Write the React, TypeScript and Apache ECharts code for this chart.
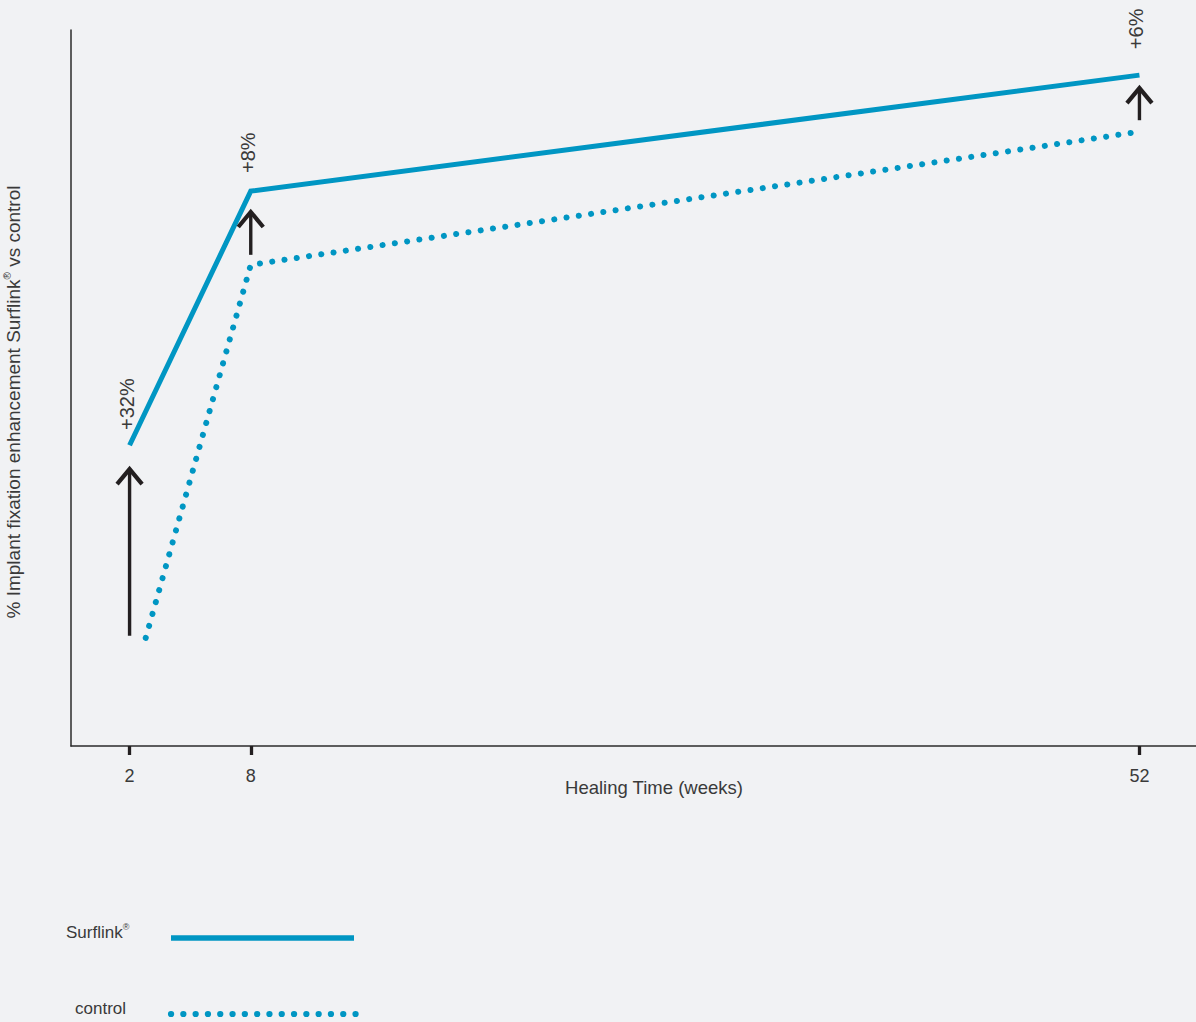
import React, { useEffect, useRef } from "react";
import * as echarts from "echarts";

// ---- data ----
const tickWeeks = [2, 8, 52];
const surflinkWeeks = [2, 8, 52];
const surflinkValues = [42.0, 77.5, 93.7];
const controlWeeks = [2.8, 8, 52];
const controlValues = [15.1, 67.2, 85.8];
const arrowWeeks = [2, 8, 52];
const arrowFrom = [15.4, 68.6, 87.4];
const arrowTo = [39.1, 75.0, 92.3];
const gainLabels = ["+32%", "+8%", "+6%"];
const seriesNames = ["Surflink®", "control"];

const BLUE = "#0096c3";
const INK = "#231f20";
const TEXT = "#3a3a3a";
const BG = "#f1f2f4";
const FONT = "'Liberation Sans', Arial, Helvetica, sans-serif";

export default function App() {
  const ref = useRef<HTMLDivElement>(null);

  useEffect(() => {
    if (!ref.current) return;
    const chart = echarts.init(ref.current, undefined, { renderer: "svg" });

    const option: any = {
      animation: false,
      backgroundColor: BG,
      grid: {
        left: 71,
        right: 0,
        top: 30,
        bottom: 276,
        containLabel: false,
        outerBoundsMode: "none",
      },
      xAxis: {
        type: "value",
        min: -0.9,
        max: 54.8,
        name: "Healing Time (weeks)",
        nameLocation: "middle",
        nameGap: 32,
        nameMoveOverlap: false,
        nameTextStyle: {
          fontFamily: FONT,
          fontSize: 18.5,
          color: TEXT,
          padding: [0, 0, 0, 41],
        },
        axisLine: { show: true, onZero: false, lineStyle: { color: "#2b2b2b", width: 1.5 } },
        axisTick: {
          show: true,
          customValues: tickWeeks,
          length: 9,
          lineStyle: { color: INK, width: 3.3 },
        },
        axisLabel: {
          customValues: tickWeeks,
          margin: 21,
          fontFamily: FONT,
          fontSize: 18,
          color: TEXT,
        },
        splitLine: { show: false },
      },
      yAxis: {
        type: "value",
        min: 0,
        max: 100,
        name: "{a|% Implant fixation enhancement Surflink}{s|®}{a| vs control}",
        nameLocation: "middle",
        nameGap: 47,
        nameRotate: 90,
        nameMoveOverlap: false,
        nameTextStyle: {
          padding: [0, 28, 0, 0],
          rich: {
            a: { fontFamily: FONT, fontSize: 19, color: TEXT, lineHeight: 22 },
            s: { fontFamily: FONT, fontSize: 10, color: TEXT, lineHeight: 10, verticalAlign: "top" },
          },
        },
        axisLine: { show: true, onZero: false, lineStyle: { color: "#2b2b2b", width: 1.5 } },
        axisTick: { show: false },
        axisLabel: { show: false },
        splitLine: { show: false },
      },
      series: [
        {
          name: seriesNames[0],
          type: "line",
          data: surflinkWeeks.map((w, i) => [w, surflinkValues[i]]),
          symbol: "none",
          lineStyle: { color: BLUE, width: 5, cap: "butt", join: "miter" },
          z: 3,
        },
        {
          name: seriesNames[1],
          type: "line",
          data: controlWeeks.map((w, i) => [w, controlValues[i]]),
          symbol: "none",
          lineStyle: { color: BLUE, width: 6, type: [0.1, 12.3], cap: "round" },
          z: 2,
        },
        {
          type: "custom",
          clip: false,
          z: 4,
          data: arrowWeeks.map((w, i) => [w, arrowFrom[i], arrowTo[i]]),
          renderItem: (params: any, api: any) => {
            const w = api.value(0);
            const p0 = api.coord([w, api.value(1)]);
            const p1 = api.coord([w, api.value(2)]);
            const tipY = p1[1] + 3;
            return {
              type: "group",
              children: [
                {
                  type: "line",
                  shape: { x1: p0[0], y1: p0[1], x2: p1[0], y2: tipY },
                  style: { stroke: INK, lineWidth: 3.4 },
                },
                {
                  type: "polyline",
                  shape: {
                    points: [
                      [p1[0] - 12.5, tipY + 15],
                      [p1[0], tipY],
                      [p1[0] + 12.5, tipY + 15],
                    ],
                  },
                  style: { stroke: INK, lineWidth: 4.2, fill: "none", lineJoin: "miter" },
                },
                {
                  type: "text",
                  x: p1[0] - 3,
                  y: p1[1] - 36,
                  rotation: Math.PI / 2,
                  style: {
                    text: gainLabels[params.dataIndex],
                    fontFamily: FONT,
                    fontSize: 20,
                    fill: TEXT,
                    align: "left",
                    verticalAlign: "middle",
                  },
                },
              ],
            };
          },
        },
      ],
      graphic: [
        {
          type: "text",
          x: 66,
          y: 932,
          style: {
            text: "{a|Surflink}{s|®}",
            verticalAlign: "middle",
            rich: {
              a: { fontFamily: FONT, fontSize: 17, fill: TEXT, lineHeight: 20 },
              s: { fontFamily: FONT, fontSize: 9, fill: TEXT, lineHeight: 9, verticalAlign: "top" },
            },
          },
        },
        {
          type: "line",
          shape: { x1: 171, y1: 938, x2: 354, y2: 938 },
          style: { stroke: BLUE, lineWidth: 5.5 },
        },
        {
          type: "text",
          x: 75,
          y: 1008,
          style: {
            text: seriesNames[1],
            fontFamily: FONT,
            fontSize: 17,
            fill: TEXT,
            verticalAlign: "middle",
          },
        },
        {
          type: "line",
          shape: { x1: 171, y1: 1014, x2: 358, y2: 1014 },
          style: { stroke: BLUE, lineWidth: 6.2, lineDash: [0.1, 12.2], lineCap: "round" },
        },
      ],
    };

    chart.setOption(option);
    return () => chart.dispose();
  }, []);

  return (
    <div
      ref={ref}
      style={{ position: "fixed", left: 0, top: 0, width: 1196, height: 1022 }}
    />
  );
}
